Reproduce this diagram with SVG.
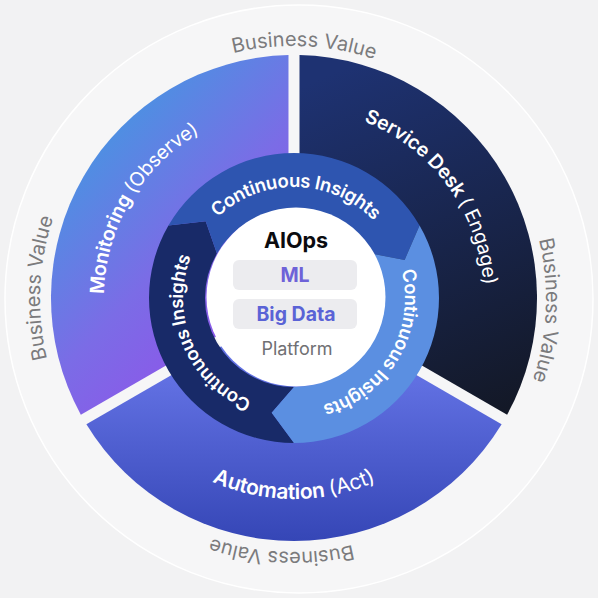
<svg xmlns="http://www.w3.org/2000/svg" width="598" height="598" viewBox="0 0 598 598">
  <style>
    .bv { font-family: Inter, "Open Sans", "Liberation Sans", sans-serif; font-size: 20px; fill: #7b7b7d; }
    .seg { font-family: Inter, "Open Sans", "Liberation Sans", sans-serif; font-size: 19.5px; font-weight: 600; fill: #ffffff; letter-spacing: -0.2px; }
    .aut { font-size: 21px; }
    .lt { font-weight: 400; }
    .ring { font-family: Inter, "Open Sans", "Liberation Sans", sans-serif; font-size: 18.5px; font-weight: 600; fill: #ffffff; letter-spacing: -0.3px; }
    .ctr { font-family: Inter, "Open Sans", "Liberation Sans", sans-serif; text-anchor: middle; }
    .chip { fill: #ececef; }
  </style>
  <defs>
    <linearGradient id="gMon" gradientUnits="userSpaceOnUse" x1="90" y1="150" x2="280" y2="330">
      <stop offset="0" stop-color="#4d90e2"/>
      <stop offset="0.5" stop-color="#7b6ce6"/>
      <stop offset="1" stop-color="#9151ea"/>
    </linearGradient>
    <linearGradient id="gSvc" gradientUnits="userSpaceOnUse" x1="340" y1="70" x2="490" y2="420">
      <stop offset="0" stop-color="#1e3272"/>
      <stop offset="1" stop-color="#131826"/>
    </linearGradient>
    <linearGradient id="gAut" gradientUnits="userSpaceOnUse" x1="0" y1="380" x2="0" y2="545">
      <stop offset="0" stop-color="#6170e2"/>
      <stop offset="1" stop-color="#3445b5"/>
    </linearGradient>
    <path id="bvPath" d="M 114.1 477.9 A 253 253 0 1 1 471.9 120.1 A 253 253 0 1 1 114.1 477.9"/>
    <path id="cwOuter" d="M 294 488 A 190 190 0 1 1 294 108 A 190 190 0 1 1 294 488"/>
    <path id="ccwAut" d="M 93 298 A 201 201 0 0 0 495 298"/>
    <path id="cwInner" d="M 294 409 A 111 111 0 1 1 294 187 A 111 111 0 1 1 294 409"/>
  </defs>

  <g id="background">
    <rect x="0" y="0" width="598" height="598" fill="#f2f2f3"/>
    <circle cx="299" cy="299" r="294" fill="#f6f6f7" stroke="#ffffff" stroke-width="1.5"/>
  </g>

  <g id="business-value">
    <text class="bv"><textPath href="#bvPath" startOffset="209.7" text-anchor="middle">Business Value</textPath></text>
    <text class="bv"><textPath href="#bvPath" startOffset="607.1" text-anchor="middle">Business Value</textPath></text>
    <text class="bv"><textPath href="#bvPath" startOffset="1004.5" text-anchor="middle">Business Value</textPath></text>
    <text class="bv"><textPath href="#bvPath" startOffset="1401.9" text-anchor="middle">Business Value</textPath></text>
  </g>

  <g id="monitoring">
    <path d="M 288.5 294.8 L 80.85 414.69 A 243 243 0 0 1 288.49 55.06 Z" fill="url(#gMon)"/>
    <text class="seg"><textPath href="#cwOuter" startOffset="399.9" text-anchor="middle">Monitoring <tspan class="lt">(Observe)</tspan></textPath></text>
  </g>

  <g id="service-desk">
    <path d="M 299.5 294.8 L 299.5 55.06 A 243 243 0 0 1 507.15 414.69 Z" fill="url(#gSvc)"/>
    <text class="seg"><textPath href="#cwOuter" startOffset="775" text-anchor="middle">Service Desk <tspan class="lt">( Engage)</tspan></textPath></text>
  </g>

  <g id="automation">
    <path d="M 294 304.35 L 501.62 424.24 A 243 243 0 0 1 86.38 424.24 Z" fill="url(#gAut)"/>
    <text class="seg aut"><textPath href="#ccwAut" startOffset="50%" text-anchor="middle">Automation <tspan class="lt">(Act)</tspan></textPath></text>
  </g>

  <g id="insights-left">
    <path d="M 294 443 A 145 145 0 0 1 168.43 225.5 L 205.7 221.24 L 216.92 253.5 A 89 89 0 0 0 294 387 L 271.68 412.85 Z" fill="#182a68"/>
    <text class="ring"><textPath href="#cwInner" startOffset="129.8" text-anchor="middle">Continuous Insights</textPath></text>
  </g>

  <g id="insights-top">
    <path d="M 168.43 225.5 A 145 145 0 0 1 419.57 225.5 L 404.63 259.91 L 371.08 253.5 A 89 89 0 0 0 216.92 253.5 L 205.7 221.24 Z" fill="#2e55b0"/>
    <text class="ring"><textPath href="#cwInner" startOffset="350.6" text-anchor="middle">Continuous Insights</textPath></text>
  </g>

  <g id="insights-right">
    <path d="M 419.57 225.5 A 145 145 0 0 1 294 443 L 271.68 412.85 L 294 387 A 89 89 0 0 0 371.08 253.5 L 404.63 259.91 Z" fill="#5b8fe1"/>
    <text class="ring"><textPath href="#cwInner" startOffset="581.2" text-anchor="middle">Continuous Insights</textPath></text>
  </g>

  <g id="platform-core">
    <circle cx="296" cy="297" r="89.5" fill="#ffffff"/>
    <text class="ctr" x="296" y="248" font-size="21.5" font-weight="700" fill="#0b0b0f">AIOps</text>
    <g id="ml">
      <rect class="chip" x="233" y="260" width="124" height="30" rx="6"/>
      <text class="ctr" x="295" y="282" font-size="19.5" font-weight="700" fill="#6e62d8">ML</text>
    </g>
    <g id="big-data">
      <rect class="chip" x="233" y="299" width="124" height="30" rx="6"/>
      <text class="ctr" x="296" y="321" font-size="19.5" font-weight="700" fill="#5a63d6">Big Data</text>
    </g>
    <text class="ctr" x="297" y="355" font-size="18" fill="#707073">Platform</text>
  </g>
</svg>
